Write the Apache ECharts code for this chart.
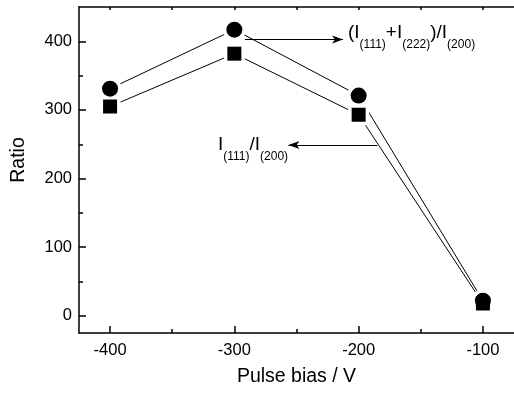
<!DOCTYPE html>
<html>
<head>
<meta charset="utf-8">
<script src="https://cdn.jsdelivr.net/npm/echarts@6/dist/echarts.min.js"></script>
<style>
  html, body { margin: 0; padding: 0; background: #fff; }
  #chart { width: 514px; height: 394px; }
</style>
</head>
<body>
<div id="chart"></div>
<script>
// pulse bias (V)
var biasValues = [-400, -300, -200, -100];
// (I111 + I222) / I200  -> circles
var ratioSum = [331, 417, 321, 22];
// I111 / I200  -> squares
var ratio111 = [305, 382, 293, 18];

var xMajorTicks = [-400, -300, -200, -100];
var xMinorTicks = [-350, -250, -150];
var yMajorTicks = [0, 100, 200, 300, 400];
var yMinorTicks = [50, 150, 250, 350];

var toPairs = function (ys) {
  return biasValues.map(function (x, i) { return [x, ys[i]]; });
};

var FONT = 'Liberation Sans, Arial, sans-serif';
var black = '#000';

var myChart = echarts.init(document.getElementById('chart'));

var lineSeries = function (ys, extra) {
  return Object.assign({
    type: 'line',
    data: toPairs(ys),
    showSymbol: false,
    symbol: 'none',
    lineStyle: { color: black, width: 1 },
    z: 2,
    silent: true
  }, extra || {});
};
var dotSeries = function (ys, shape, size, color, z) {
  return {
    type: 'scatter',
    data: toPairs(ys),
    symbol: shape,
    symbolSize: size,
    itemStyle: { color: color, opacity: 1 },
    z: z,
    silent: true
  };
};

// rich text for the formula labels
var richStyle = {
  m: { fontSize: 19, lineHeight: 20, fontFamily: FONT, fill: black, verticalAlign: 'top' },
  s: { fontSize: 12, lineHeight: 12, fontFamily: FONT, fill: black, verticalAlign: 'top', padding: [16, 0, 0, 0] }
};

myChart.setOption({
  animation: false,
  backgroundColor: '#fff',
  textStyle: { fontFamily: FONT, color: black },
  grid: { left: 79, top: 7, right: -3.6, bottom: 61 },
  xAxis: [{
    type: 'value', min: -425, max: -75, position: 'bottom',
    name: 'Pulse bias / V', nameLocation: 'middle', nameGap: 34,
    nameTextStyle: { fontSize: 19.5, color: black, fontFamily: FONT },
    axisLine: { show: true, onZero: false, lineStyle: { color: black, width: 1.5 } },
    axisTick: { show: true, inside: true, length: 7, customValues: xMajorTicks, lineStyle: { color: black, width: 1.5 } },
    axisLabel: { show: true, customValues: xMajorTicks, fontSize: 16.5, color: black, margin: 9, fontFamily: FONT },
    splitLine: { show: false }
  }, {
    type: 'value', min: -425, max: -75, position: 'bottom',
    axisLine: { show: false, onZero: false },
    axisTick: { show: true, inside: true, length: 4, customValues: xMinorTicks, lineStyle: { color: black, width: 1.5 } },
    axisLabel: { show: false },
    splitLine: { show: false }
  }, {
    type: 'value', min: -425, max: -75, position: 'top',
    axisLine: { show: true, onZero: false, lineStyle: { color: black, width: 1.5 } },
    axisTick: { show: true, inside: true, length: 3, customValues: xMajorTicks.concat(xMinorTicks), lineStyle: { color: black, width: 1.5 } },
    axisLabel: { show: false },
    splitLine: { show: false }
  }],
  yAxis: [{
    type: 'value', min: -25, max: 450, position: 'left',
    name: 'Ratio', nameLocation: 'middle', nameGap: 50,
    nameTextStyle: { fontSize: 19.5, color: black, fontFamily: FONT, padding: [0, 0, 0, 20] },
    axisLine: { show: true, onZero: false, lineStyle: { color: black, width: 1.5 } },
    axisTick: { show: true, inside: true, length: 7, customValues: yMajorTicks, lineStyle: { color: black, width: 1.5 } },
    axisLabel: { show: true, customValues: yMajorTicks, fontSize: 16.5, color: black, margin: 7, fontFamily: FONT },
    splitLine: { show: false }
  }, {
    type: 'value', min: -25, max: 450, position: 'left',
    axisLine: { show: false, onZero: false },
    axisTick: { show: true, inside: true, length: 4, customValues: yMinorTicks, lineStyle: { color: black, width: 1.5 } },
    axisLabel: { show: false },
    splitLine: { show: false }
  }],
  series: [
    lineSeries(ratioSum, {
      markLine: {
        silent: true,
        symbol: ['none', 'arrow'],
        symbolSize: [6, 11],
        label: { show: false },
        lineStyle: { color: black, width: 1, type: 'solid' },
        data: [
          [{ coord: [-291.5, 402.5] }, { coord: [-212.5, 402.5] }],
          [{ coord: [-185, 249] }, { coord: [-256.5, 249] }]
        ]
      }
    }),
    lineSeries(ratio111),
    // white halos give the gap between line and marker
    dotSeries(ratioSum, 'circle', 23, '#fff', 3),
    dotSeries(ratio111, 'rect', 21, '#fff', 3),
    dotSeries(ratioSum, 'circle', 16, black, 4),
    dotSeries(ratio111, 'rect', 14, black, 4)
  ],
  graphic: [{
    type: 'text', left: 348, top: 23, silent: true,
    style: {
      text: '{m|(I}{s|(111)}{m|+I}{s|(222)}{m|)/I}{s|(200)}',
      rich: richStyle, fill: black, font: '19px ' + FONT
    }
  }, {
    type: 'text', left: 218, top: 135, silent: true,
    style: {
      text: '{m|I}{s|(111)}{m|/I}{s|(200)}',
      rich: richStyle, fill: black, font: '19px ' + FONT
    }
  }]
});

window.addEventListener('resize', function () {
  myChart.resize();
});
</script>
</body>
</html>
